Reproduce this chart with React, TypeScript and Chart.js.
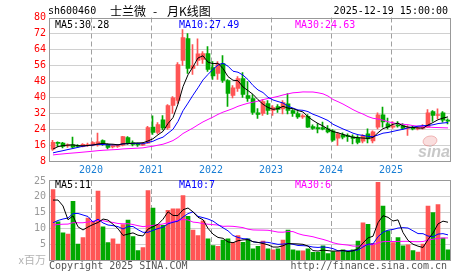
import React, { useEffect, useRef } from "react";
import { Chart, registerables } from "chart.js";

Chart.register(...registerables);

// ---- categories (monthly, May 2019 .. Dec 2025) ----
const firstYear = 2019;
const firstMonth = 5;
const monthCount = 80;
const monthLabels: string[] = [];
for (let k = 0; k < monthCount; k++) {
  const m = firstMonth - 1 + k;
  monthLabels.push(`${firstYear + Math.floor(m / 12)}-${String((m % 12) + 1).padStart(2, "0")}`);
}
const yearTickLabels = ["2020", "2021", "2022", "2023", "2024", "2025"];

// ---- candles ----
const opens = [
  14.2, 17.6, 17.2, 15.8, 16.3, 15.9, 15.6, 16.0, 16.3, 16.3,
  18.5, 16.6, 15.3, 15.6, 16.2, 20.0, 17.3, 16.8, 16.2, 17.2,
  25.2, 22.5, 28.8, 24.8, 36.0, 38.5, 58.5, 69.5, 54.5, 58.5,
  59.0, 62.0, 55.0, 52.0, 57.0, 48.5, 41.0, 44.5, 49.5, 41.0,
  39.5, 32.3, 32.0, 37.0, 33.5, 35.5, 34.3, 36.8, 33.5, 32.0,
  30.3, 30.6, 25.5, 25.0, 25.0, 24.3, 23.3, 19.7, 21.3, 20.6,
  20.3, 20.0, 18.2, 21.8, 18.3, 25.2, 31.3, 26.8, 25.2, 26.3,
  26.0, 24.5, 25.0, 24.3, 24.6, 25.2, 33.0, 31.0, 32.3, 28.7,
];
const highs = [
  18.6, 17.8, 17.6, 16.8, 20.2, 16.4, 17.0, 17.2, 18.0, 22.2,
  18.8, 16.8, 16.3, 16.5, 20.6, 20.4, 18.3, 17.2, 17.5, 25.6,
  30.8, 27.5, 31.0, 36.5, 40.5, 57.5, 74.0, 72.0, 66.5, 69.3,
  63.0, 65.5, 58.0, 58.0, 61.0, 49.0, 46.0, 50.5, 52.5, 48.0,
  41.5, 34.5, 39.0, 38.5, 36.0, 36.5, 38.5, 42.0, 34.0, 33.0,
  31.5, 31.5, 26.3, 27.0, 27.7, 26.0, 24.0, 22.5, 22.3, 21.8,
  21.3, 21.0, 21.5, 24.3, 23.3, 32.3, 35.2, 29.7, 28.0, 28.0,
  27.0, 26.0, 26.0, 25.5, 26.5, 34.0, 33.5, 34.3, 33.0, 29.3,
];
const lows = [
  13.6, 15.4, 14.8, 15.0, 14.8, 15.0, 15.3, 15.5, 15.8, 15.7,
  16.0, 14.3, 14.8, 15.0, 15.8, 16.5, 15.8, 15.5, 15.9, 17.0,
  21.5, 21.8, 23.8, 24.0, 32.0, 37.0, 56.0, 52.0, 51.5, 56.0,
  57.0, 53.0, 49.0, 49.0, 47.5, 35.5, 39.8, 43.0, 40.0, 38.0,
  31.5, 29.5, 31.0, 31.5, 31.0, 32.5, 31.8, 31.8, 30.5, 29.5,
  29.5, 25.0, 24.0, 22.3, 23.8, 22.3, 18.0, 16.0, 19.3, 18.0,
  16.8, 16.8, 17.3, 17.3, 17.3, 24.3, 25.2, 24.3, 24.5, 25.2,
  24.0, 21.0, 23.8, 23.8, 24.2, 25.0, 28.0, 29.3, 27.7, 26.8,
];
const closes = [
  17.6, 17.0, 15.6, 16.3, 15.2, 15.5, 16.6, 16.4, 17.5, 17.8,
  17.0, 15.0, 15.9, 16.0, 20.4, 17.2, 16.5, 16.3, 16.4, 25.0,
  22.6, 26.5, 24.8, 36.0, 39.8, 56.5, 70.0, 54.5, 56.0, 61.8,
  62.0, 54.0, 50.8, 57.0, 48.5, 42.0, 44.8, 49.5, 41.5, 39.5,
  32.5, 31.5, 38.0, 33.5, 35.0, 34.0, 37.5, 33.5, 32.0, 30.3,
  30.6, 25.2, 24.6, 24.3, 24.2, 22.8, 18.7, 21.8, 20.2, 20.4,
  19.5, 17.5, 21.0, 19.3, 22.8, 31.3, 27.8, 25.2, 25.8, 25.8,
  24.5, 24.8, 24.3, 24.6, 25.2, 32.3, 31.0, 31.3, 28.7, 28.2,
];
// volume, millions of shares
const volumes = [
  22.3, 12.1, 8.6, 8.2, 18.6, 5.0, 7.1, 13.3, 12.1, 21.8,
  10.5, 5.5, 6.7, 5.0, 11.2, 12.6, 7.4, 3.0, 3.9, 22.0,
  16.4, 11.2, 11.0, 15.7, 16.2, 16.2, 20.4, 13.8, 9.5, 7.7,
  12.4, 6.7, 4.6, 4.3, 6.3, 6.7, 5.5, 7.7, 5.6, 6.7,
  3.5, 4.3, 6.0, 3.5, 3.2, 3.5, 6.3, 9.5, 3.2, 2.9,
  2.9, 3.5, 2.4, 2.4, 4.5, 2.0, 2.7, 2.7, 3.2, 2.7,
  3.2, 6.0, 11.8, 11.3, 5.3, 24.6, 17.1, 9.2, 5.5, 7.1,
  4.5, 4.8, 3.0, 2.5, 5.0, 17.1, 15.0, 17.5, 6.9, 3.2,
];
// months before the window (not drawn), estimated from where the MA lines start
const priorCloses = [
  8.5, 8.8, 9.0, 9.2, 9.5, 9.3, 9.6, 10.0, 10.5, 10.8, 11.0, 11.4,
  12.0, 12.8, 13.2, 12.6, 12.4, 12.0, 11.8, 11.2,
  11.0, 10.6, 10.4, 10.2, 9.8,
  11.0, 13.0, 15.0, 14.5,
];
const priorVolumes = [
  5, 6, 7, 5, 6, 7, 6, 6,
  12, 14, 16, 13, 15, 14, 12, 15, 14, 13, 16, 10,
  5, 4, 5, 4.5, 4.7,
  12, 18, 30, 12.5,
];

// ---- header texts ----
const stockCode = "sh600460";
const stockName = "士兰微";
const chartTitle = "月K线图";
const stampText = "2025-12-19 15:00:00";
const priceMaLabels = ["MA5:30.28", "MA10:27.49", "MA30:24.63"];
const volMaLabels = ["MA5:11", "MA10:7", "MA30:6"];
const priceTickValues = [80, 72, 64, 56, 48, 40, 32, 24, 16, 8];
const volTickValues = [25, 20, 15, 10, 5];
const volUnit = "x百万";
const copyrightText = "Copyright 2025 SINA.COM";
const urlText = "http://finance.sina.com.cn";

const RED = "#ff5555";
const GREEN = "#00a800";
const MA_COLORS = ["#000000", "#0000ff", "#ff00ff"];
const MONO = "'DejaVu Sans Mono', monospace";
const CJK = "'Noto Sans CJK SC', sans-serif";

function movingAverage(prior: number[], values: number[], n: number): number[] {
  const all = prior.concat(values);
  const off = prior.length;
  return values.map((_, i) => {
    let s = 0;
    for (let k = off + i - n + 1; k <= off + i; k++) s += all[k];
    return s / n;
  });
}

const isUp = closes.map((c, i) => c >= opens[i]);
const barColors = isUp.map((u) => (u ? RED : GREEN));
const janIndices = monthLabels.map((m, i) => (m.endsWith("-01") ? i : -1)).filter((i) => i >= 0);

const W = 472;
const H = 273;
const LEFT = 50.5;
const RIGHT = 450.5;

function drawYearGrid(chart: any, top: number, bottom: number) {
  const ctx = chart.ctx;
  const xs = chart.scales.x;
  ctx.save();
  ctx.strokeStyle = "#a0a0a0";
  ctx.lineWidth = 1;
  ctx.setLineDash([5, 3]);
  janIndices.forEach((ji) => {
    const px = Math.floor(xs.getPixelForValue(ji - 0.4)) + 0.5;
    ctx.beginPath();
    ctx.moveTo(px, top);
    ctx.lineTo(px, bottom);
    ctx.stroke();
  });
  ctx.restore();
}

function drawHGrid(chart: any, values: number[]) {
  const ctx = chart.ctx;
  const ys = chart.scales.y;
  const { left, right } = chart.chartArea;
  ctx.save();
  ctx.strokeStyle = "#a0a0a0";
  ctx.lineWidth = 1;
  ctx.setLineDash([1, 1]);
  values.forEach((v) => {
    const py = Math.floor(ys.getPixelForValue(v)) + 0.5;
    ctx.beginPath();
    ctx.moveTo(left, py);
    ctx.lineTo(right, py);
    ctx.stroke();
  });
  ctx.restore();
}

const pricePlugin = {
  id: "pricePanel",
  beforeDatasetsDraw(chart: any) {
    const ctx = chart.ctx;
    const { top, bottom } = chart.chartArea;
    drawHGrid(chart, priceTickValues.filter((v) => v > 8 && v < 80));
    drawYearGrid(chart, top, bottom);
    // sina watermark
    ctx.save();
    ctx.beginPath();
    ctx.ellipse(430, 141, 7, 5, -0.2, 0, Math.PI * 2);
    ctx.fillStyle = "rgba(240,160,160,0.35)";
    ctx.fill();
    ctx.strokeStyle = "rgba(225,110,110,0.45)";
    ctx.stroke();
    ctx.font = "italic bold 16px 'Liberation Sans', sans-serif";
    ctx.fillStyle = "#c8c8c8";
    ctx.textBaseline = "alphabetic";
    ctx.fillText("sina", 418, 157);
    ctx.restore();
  },
  afterDraw(chart: any) {
    const ctx = chart.ctx;
    const ys = chart.scales.y;
    const xs = chart.scales.x;
    ctx.save();
    // border
    ctx.strokeStyle = "#999";
    ctx.lineWidth = 1;
    ctx.setLineDash([]);
    ctx.strokeRect(49.5, 18.5, 401, 143);
    // title
    ctx.fillStyle = "#000";
    ctx.textBaseline = "middle";
    ctx.textAlign = "left";
    ctx.font = `10px ${MONO}`;
    ctx.fillText(stockCode, 48, 11);
    ctx.font = `12px ${CJK}`;
    ctx.fillText(stockName, 110, 11);
    ctx.fillText("-", 153, 11);
    ctx.fillText(chartTitle, 167, 11);
    ctx.font = `10px ${MONO}`;
    ctx.textAlign = "right";
    ctx.fillText(stampText, 448, 11);
    // y tick labels
    ctx.fillStyle = "#ff0000";
    ctx.textAlign = "right";
    priceTickValues.forEach((v) => {
      ctx.fillText(String(v), 46, ys.getPixelForValue(v));
    });
    // MA labels
    ctx.textAlign = "left";
    const lx = [55, 179, 295];
    priceMaLabels.forEach((t, k) => {
      ctx.fillStyle = MA_COLORS[k];
      ctx.fillText(t, lx[k], 25);
    });
    // year labels
    ctx.fillStyle = "#1a7fd4";
    ctx.textAlign = "center";
    janIndices.forEach((ji, k) => {
      ctx.fillText(yearTickLabels[k], xs.getPixelForValue(ji - 0.4), 170);
    });
    ctx.restore();
  },
};

const volPlugin = {
  id: "volPanel",
  beforeDatasetsDraw(chart: any) {
    const { top, bottom } = chart.chartArea;
    drawHGrid(chart, volTickValues.filter((v) => v < 25));
    drawYearGrid(chart, top, bottom);
  },
  afterDraw(chart: any) {
    const ctx = chart.ctx;
    const ys = chart.scales.y;
    ctx.save();
    ctx.strokeStyle = "#999";
    ctx.lineWidth = 1;
    ctx.setLineDash([]);
    ctx.strokeRect(49.5, 180.5, 401, 80);
    ctx.textBaseline = "middle";
    ctx.font = `10px ${MONO}`;
    ctx.fillStyle = "#999";
    ctx.textAlign = "right";
    volTickValues.forEach((v) => ctx.fillText(String(v), 46, ys.getPixelForValue(v)));
    ctx.fillStyle = "#b4b4b4";
    ctx.font = `11px ${CJK}`;
    ctx.fillText(volUnit, 46, 260);
    ctx.textAlign = "left";
    ctx.font = `10px ${MONO}`;
    const lx = [55, 179, 295];
    volMaLabels.forEach((t, k) => {
      ctx.fillStyle = MA_COLORS[k];
      ctx.fillText(t, lx[k], 185);
    });
    ctx.fillStyle = "#555";
    ctx.fillText(copyrightText, 49, 266);
    ctx.textAlign = "right";
    ctx.fillText(urlText, 447, 266);
    ctx.restore();
  },
};

function baseOptions(padding: any, yMin: number, yMax: number): any {
  return {
    responsive: false,
    animation: false,
    devicePixelRatio: 1,
    events: [],
    layout: { padding },
    plugins: { legend: { display: false }, tooltip: { enabled: false } },
    scales: {
      x: { type: "linear", min: -0.5, max: monthCount - 0.5, offset: false, display: false },
      xw: { type: "linear", min: -0.4, max: monthCount - 0.4, offset: false, display: false },
      y: { type: "linear", min: yMin, max: yMax, display: false },
    },
  };
}

function maDatasets(prior: number[], values: number[]) {
  return [5, 10, 30].map((n, k) => ({
    type: "line",
    xAxisID: "x",
    yAxisID: "y",
    data: movingAverage(prior, values, n).map((v, i) => ({ x: i, y: v })),
    borderColor: MA_COLORS[k],
    borderWidth: 1,
    pointRadius: 0,
    tension: 0,
    fill: false,
    order: k === 0 ? 0 : k === 1 ? 0.5 : 0.8,
  }));
}

export default function App() {
  const priceRef = useRef<HTMLCanvasElement>(null);
  const volRef = useRef<HTMLCanvasElement>(null);

  useEffect(() => {
    const priceChart = new Chart(priceRef.current as HTMLCanvasElement, {
      type: "bar",
      data: {
        datasets: [
          {
            type: "bar",
            xAxisID: "xw",
            yAxisID: "y",
            data: monthLabels.map((_, i) => ({ x: i, y: [lows[i], highs[i]] })),
            backgroundColor: barColors,
            barThickness: 1,
            grouped: false,
            minBarLength: 1,
            order: 3,
          },
          {
            type: "bar",
            xAxisID: "x",
            yAxisID: "y",
            data: monthLabels.map((_, i) => ({ x: i, y: [opens[i], closes[i]] })),
            backgroundColor: barColors,
            barThickness: 4,
            grouped: false,
            minBarLength: 1,
            order: 2,
          },
          ...maDatasets(priorCloses, closes),
        ] as any,
      },
      options: baseOptions({ left: LEFT, right: W - RIGHT, top: 17.5, bottom: H - 161.5 }, 8, 80),
      plugins: [pricePlugin],
    });

    const volChart = new Chart(volRef.current as HTMLCanvasElement, {
      type: "bar",
      data: {
        datasets: [
          {
            type: "bar",
            xAxisID: "x",
            yAxisID: "y",
            data: monthLabels.map((_, i) => ({ x: i, y: volumes[i] })),
            backgroundColor: barColors,
            barThickness: 4,
            grouped: false,
            order: 2,
          },
          ...maDatasets(priorVolumes, volumes),
        ] as any,
      },
      options: baseOptions({ left: LEFT, right: W - RIGHT, top: 181, bottom: H - 260 }, 0, 25),
      plugins: [volPlugin],
    });

    return () => {
      priceChart.destroy();
      volChart.destroy();
    };
  }, []);

  const cs: React.CSSProperties = { position: "absolute", left: 0, top: 0, width: W, height: H };
  return (
    <div style={{ position: "absolute", left: 0, top: 0, width: W, height: H, background: "#fff" }}>
      <canvas ref={priceRef} width={W} height={H} style={cs} />
      <canvas ref={volRef} width={W} height={H} style={cs} />
    </div>
  );
}
